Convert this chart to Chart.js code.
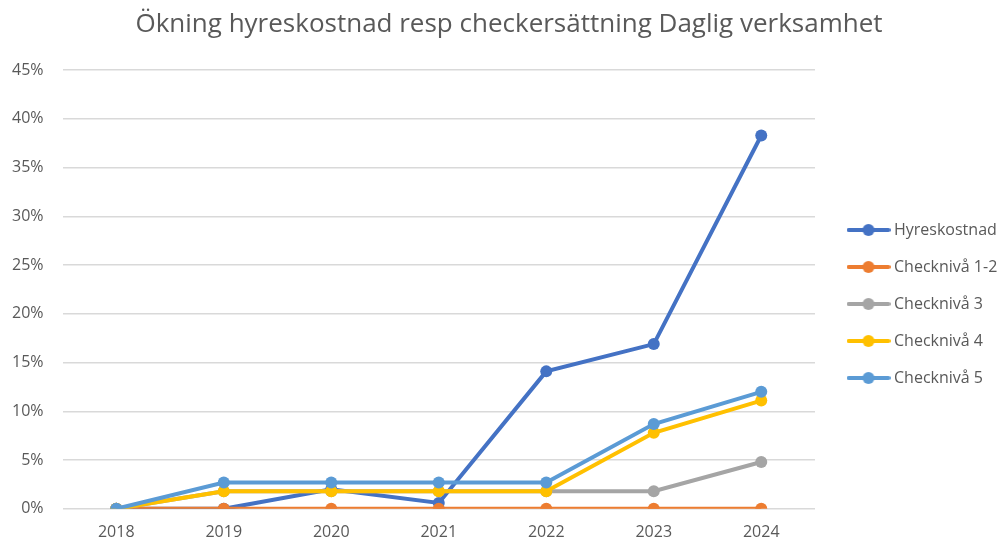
<!DOCTYPE html>
<html lang="sv">
<head>
    <meta charset="UTF-8">
    <title>Ökning hyreskostnad</title>
    <script src="https://cdn.jsdelivr.net/npm/chart.js"></script>
    <style>
        html, body { margin: 0; padding: 0; background: #fff; }
        #wrap { width: 1006px; height: 542px; }
    </style>
</head>
<body>
    <div id="wrap"><canvas id="chart"></canvas></div>

    <script>
        // values in percent
        const years = ['2018', '2019', '2020', '2021', '2022', '2023', '2024'];
        const hyreskostnad = [0, 0, 2.0, 0.6, 14.1, 16.9, 38.3];
        const check12 = [0, 0, 0, 0, 0, 0, 0];
        const check3 = [0, 1.8, 1.8, 1.8, 1.8, 1.8, 4.8];
        const check4 = [0, 1.8, 1.8, 1.8, 1.8, 7.8, 11.1];
        const check5 = [0, 2.7, 2.7, 2.7, 2.7, 8.7, 12.0];

        const seriesNames = ['Hyreskostnad', 'Checknivå 1-2', 'Checknivå 3', 'Checknivå 4', 'Checknivå 5'];
        const seriesData = [hyreskostnad, check12, check3, check4, check5];
        const colors = ['#4472c4', '#ed7d31', '#a5a5a5', '#ffc000', '#5b9bd5'];

        const textColor = '#595959';
        const fontFamily = '"Open Sans", "Liberation Sans", sans-serif';

        // little line + dot symbol for the legend
        function legendSymbol(color) {
            const c = document.createElement('canvas');
            c.width = 44;
            c.height = 14;
            const g = c.getContext('2d');
            g.strokeStyle = color;
            g.lineWidth = 4;
            g.lineCap = 'round';
            g.beginPath();
            g.moveTo(2, 7);
            g.lineTo(42, 7);
            g.stroke();
            g.fillStyle = color;
            g.beginPath();
            g.arc(22, 7, 6, 0, Math.PI * 2);
            g.fill();
            return c;
        }

        // legend narrower than its text (text runs to the edge like the original),
        // and drawn a bit lower
        const legendFix = {
            id: 'legendFix',
            afterInit(chart) {
                const legend = chart.legend;
                const fit = legend.fit.bind(legend);
                legend.fit = function () {
                    fit();
                    this.width = 176;
                };
                const draw = legend.draw.bind(legend);
                legend.draw = function () {
                    chart.ctx.save();
                    chart.ctx.translate(0, 33);
                    draw();
                    chart.ctx.restore();
                };
            }
        };

        const datasets = seriesNames.map((name, i) => ({
            label: name,
            data: seriesData[i],
            borderColor: colors[i],
            backgroundColor: colors[i],
            borderWidth: 4,
            pointRadius: 6,
            pointHoverRadius: 6,
            pointBorderWidth: 0,
            tension: 0,
            order: seriesNames.length - i
        }));

        const ctx = document.getElementById('chart').getContext('2d');
        new Chart(ctx, {
            type: 'line',
            data: {
                labels: years,
                datasets: datasets
            },
            plugins: [legendFix],
            options: {
                responsive: true,
                maintainAspectRatio: false,
                animation: false,
                layout: {
                    padding: { left: 12, right: 0, top: 0, bottom: 0 }
                },
                plugins: {
                    title: {
                        display: true,
                        text: 'Ökning hyreskostnad resp checkersättning Daglig verksamhet',
                        color: textColor,
                        font: { family: fontFamily, size: 26, weight: 'normal' },
                        padding: { top: 9, bottom: 30 }
                    },
                    legend: {
                        position: 'right',
                        align: 'center',
                        labels: {
                            color: textColor,
                            font: { family: fontFamily, size: 16 },
                            usePointStyle: true,
                            boxWidth: 35,
                            pointStyleWidth: 35,
                            padding: 21,
                            generateLabels: (chart) => chart.data.datasets.map((ds, i) => ({
                                text: ds.label,
                                fontColor: textColor,
                                pointStyle: legendSymbol(colors[i]),
                                datasetIndex: i,
                                lineWidth: 0,
                                hidden: false
                            }))
                        }
                    },
                    tooltip: { enabled: false }
                },
                scales: {
                    x: {
                        offset: true,
                        grid: { display: false, drawTicks: false },
                        border: { display: false },
                        ticks: {
                            color: textColor,
                            font: { family: fontFamily, size: 16 },
                            padding: 14
                        },
                        // chart.js counts the tick padding twice
                        afterFit: (scale) => { scale.height -= 14; }
                    },
                    y: {
                        min: 0,
                        max: 45,
                        border: { display: false },
                        grid: { color: '#d9d9d9', lineWidth: 1.5, drawTicks: false },
                        ticks: {
                            stepSize: 5,
                            color: textColor,
                            font: { family: fontFamily, size: 16 },
                            padding: 19,
                            callback: (v) => v + '%'
                        },
                        afterFit: (scale) => { scale.width -= 19; }
                    },
                    // empty spacer between plot and legend
                    gap: {
                        type: 'linear',
                        position: 'right',
                        display: true,
                        grid: { display: false },
                        border: { display: false },
                        ticks: { display: false },
                        afterFit: (scale) => { scale.width = 15; }
                    }
                }
            }
        });
    </script>
</body>
</html>
